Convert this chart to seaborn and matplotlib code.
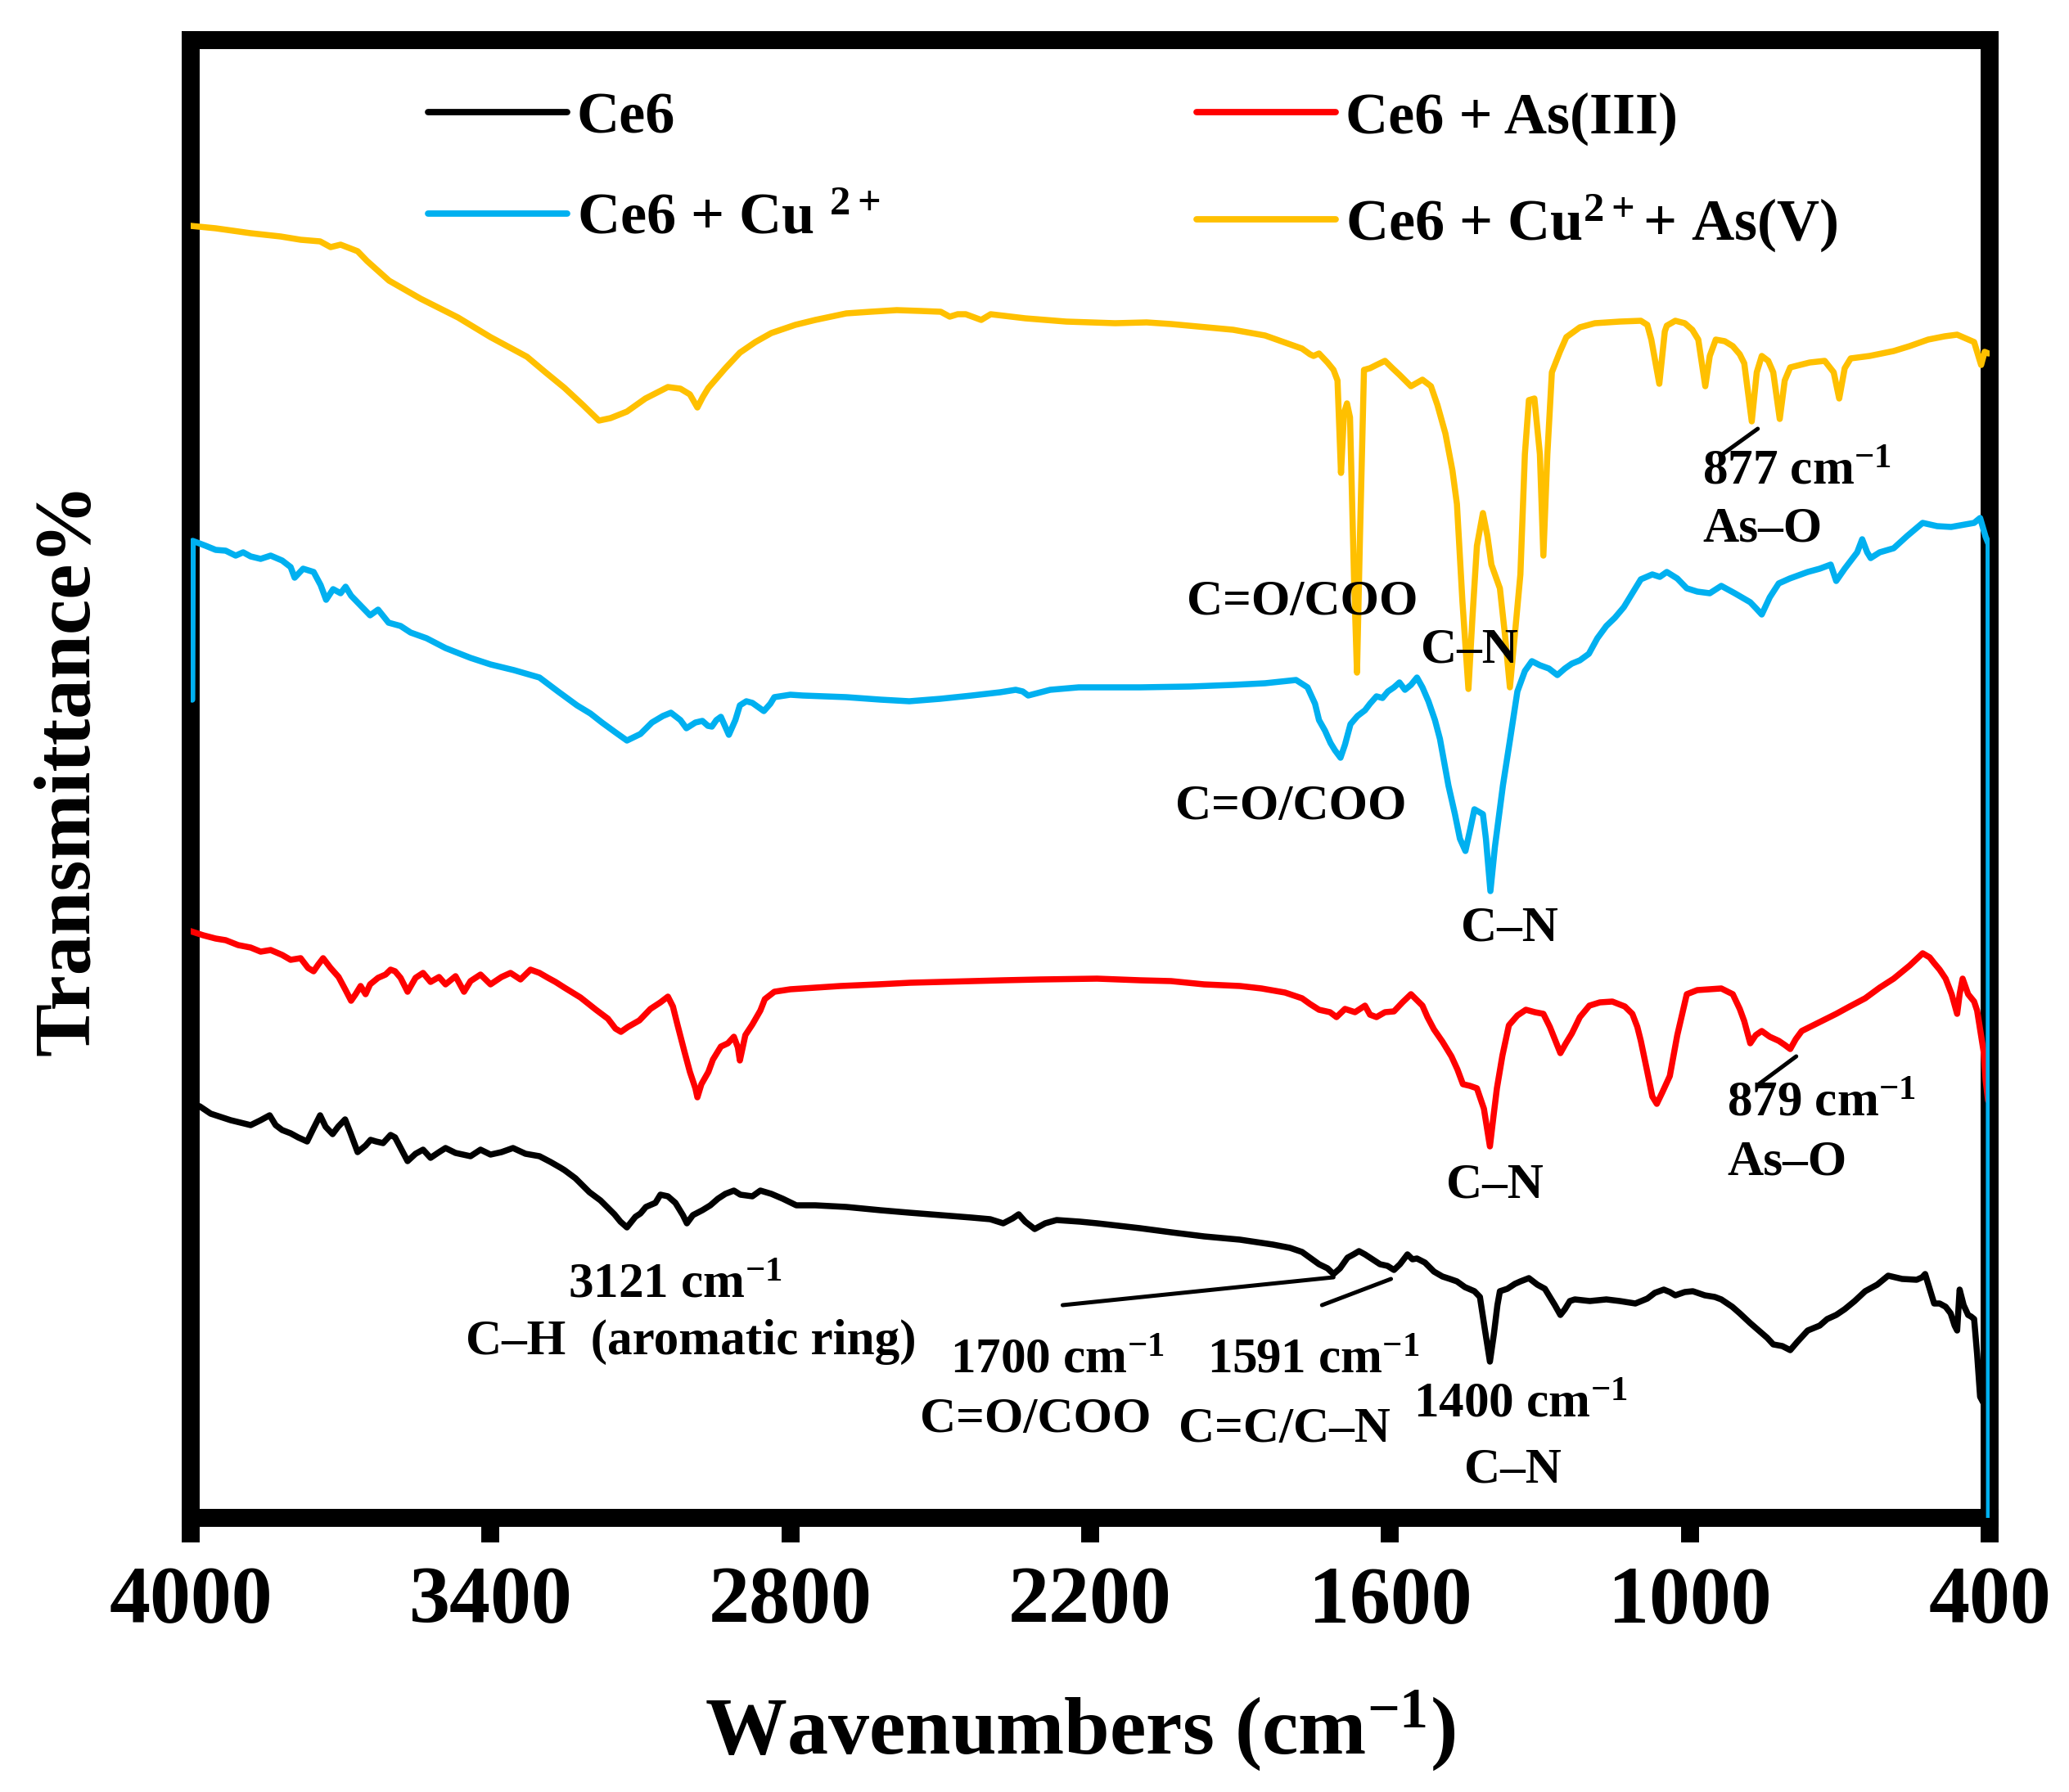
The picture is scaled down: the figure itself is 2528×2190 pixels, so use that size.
import numpy as np
import pandas as pd
import matplotlib
matplotlib.use("Agg")
import matplotlib.pyplot as plt
import seaborn as sns

# ---------------- data (wavenumber, relative transmittance, arbitrary offset units) ----------------
wn_ce6 = [3995, 3982, 3960, 3940, 3920, 3900, 3880, 3860, 3842, 3830, 3817, 3800, 3785, 3767, 3755, 3741,
          3730, 3716, 3705, 3691, 3680, 3666, 3650, 3640, 3629, 3615, 3600, 3591, 3578, 3566, 3550, 3535,
          3520, 3503, 3490, 3470, 3440, 3420, 3400, 3378, 3355, 3330, 3302, 3280, 3260, 3252, 3230, 3202,
          3180, 3152, 3140, 3127, 3110, 3100, 3089, 3070, 3060, 3045, 3030, 3015, 3007, 2995, 2976, 2960,
          2945, 2930, 2913, 2900, 2876, 2860, 2838, 2815, 2788, 2750, 2688, 2620, 2562, 2500, 2437, 2400,
          2374, 2355, 2343, 2330, 2311, 2290, 2267, 2220, 2186, 2100, 2038, 1972, 1900, 1834, 1800, 1776,
          1760, 1742, 1725, 1713, 1700, 1685, 1673, 1662, 1650, 1635, 1620, 1605, 1592, 1580, 1565, 1555,
          1546, 1530, 1512, 1495, 1480, 1466, 1450, 1431, 1420, 1410, 1400, 1392, 1385, 1380, 1365, 1350,
          1339, 1322, 1305, 1290, 1282, 1270, 1259, 1250, 1240, 1230, 1200, 1167, 1140, 1109, 1085, 1070,
          1052, 1040, 1029, 1010, 994, 970, 950, 937, 915, 900, 879, 860, 845, 833, 815, 799,
          785, 764, 740, 725, 707, 690, 670, 649, 625, 603, 575, 546, 535, 529, 520, 511,
          500, 488, 478, 470, 465, 460, 452, 443, 437, 431, 425, 419, 412, 405]
t_ce6 = [505, 503, 494, 490, 486, 483, 480, 486, 492, 480, 474, 470, 465, 460, 475, 492,
         478, 469, 478, 487, 470, 447, 455, 462, 460, 458, 468, 465, 450, 436, 445, 450,
         440, 447, 452, 446, 442, 450, 444, 447, 452, 445, 442, 435, 428, 425, 415, 398,
         388, 371, 362, 355, 368, 372, 380, 385, 395, 393, 385, 370, 360, 370, 376, 382,
         390, 396, 400, 395, 393, 400, 396, 390, 382, 382, 380, 376, 373, 370, 367, 365,
         360, 366, 371, 362, 353, 360, 364, 362, 360, 354, 349, 344, 340, 334, 330, 325,
         318, 310, 305, 298, 305, 318, 322, 326, 322, 316, 310, 308, 303, 310, 322, 316,
         317, 312, 301, 295, 292, 289, 282, 277, 270, 230, 191, 225, 260, 277, 280, 286,
         289, 293, 285, 280, 272, 260, 248, 255, 265, 267, 265, 267, 265, 262, 268, 275,
         279, 276, 272, 276, 277, 272, 270, 267, 258, 250, 238, 228, 220, 212, 210, 205,
         215, 229, 235, 243, 248, 255, 265, 277, 285, 296, 292, 291, 294, 298, 280, 262,
         262, 258, 250, 235, 229, 279, 260, 248, 246, 243, 200, 148, 140, 130]

wn_as3 = [4000, 3975, 3950, 3930, 3905, 3880, 3860, 3840, 3817, 3800, 3780, 3765, 3754, 3745, 3735, 3720,
          3704, 3690, 3679, 3670, 3660, 3650, 3641, 3625, 3610, 3600, 3591, 3580, 3566, 3550, 3535, 3520,
          3503, 3490, 3470, 3453, 3440, 3420, 3400, 3378, 3360, 3340, 3320, 3302, 3285, 3270, 3252, 3220,
          3189, 3165, 3150, 3139, 3125, 3102, 3080, 3060, 3045, 3035, 3026, 3012, 3001, 2990, 2986, 2978,
          2964, 2955, 2939, 2925, 2913, 2905, 2901, 2890, 2876, 2860, 2851, 2832, 2800, 2750, 2700, 2625,
          2560, 2499, 2440, 2374, 2300, 2186, 2100, 2038, 1972, 1900, 1857, 1810, 1776, 1760, 1742, 1720,
          1707, 1690, 1670, 1650, 1640, 1627, 1610, 1592, 1575, 1558, 1545, 1535, 1525, 1512, 1495, 1477,
          1465, 1454, 1440, 1426, 1412, 1400, 1393, 1386, 1375, 1362, 1345, 1328, 1310, 1293, 1280, 1259,
          1248, 1236, 1220, 1201, 1180, 1155, 1130, 1115, 1105, 1098, 1085, 1075, 1066, 1055, 1040, 1025,
          1006, 985, 960, 937, 914, 900, 891, 879, 868, 856, 840, 822, 810, 799, 788, 776,
          740, 707, 680, 649, 620, 592, 560, 534, 520, 511, 500, 488, 476, 465, 460, 454,
          443, 431, 425, 419, 412, 408, 403]
t_as3 = [717, 712, 708, 706, 700, 697, 692, 694, 688, 682, 684, 672, 668, 676, 684, 672,
         661, 645, 632, 640, 650, 640, 652, 660, 664, 670, 668, 660, 643, 660, 666, 655,
         661, 652, 662, 643, 656, 664, 652, 661, 666, 658, 670, 666, 660, 655, 648, 636,
         621, 610, 598, 594, 600, 608, 622, 630, 637, 625, 603, 570, 545, 525, 514, 530,
         545, 560, 576, 580, 588, 575, 559, 590, 603, 620, 634, 643, 646, 648, 650, 652,
         654, 655, 656, 657, 658, 659, 657, 656, 652, 650, 647, 642, 635, 628, 621, 618,
         612, 622, 618, 626, 615, 612, 618, 619, 630, 640, 632, 626, 612, 597, 582, 564,
         548, 530, 528, 525, 500, 454, 490, 525, 565, 602, 614, 621, 618, 616, 600, 568,
         580, 592, 612, 626, 630, 631, 625, 616, 600, 583, 545, 515, 506, 520, 540, 590,
         640, 645, 646, 647, 640, 622, 607, 580, 590, 595, 588, 583, 578, 573, 585, 595,
         606, 616, 625, 635, 648, 659, 675, 690, 685, 678, 670, 659, 640, 616, 640, 659,
         640, 631, 620, 597, 570, 535, 510]

wn_cu = [3997, 3996, 3970, 3950, 3930, 3910, 3895, 3880, 3860, 3840, 3817, 3800, 3792, 3775, 3754, 3740,
         3729, 3715, 3700, 3690, 3679, 3660, 3641, 3625, 3604, 3580, 3560, 3528, 3490, 3440, 3400, 3353,
         3302, 3265, 3227, 3200, 3177, 3150, 3127, 3100, 3077, 3055, 3039, 3020, 3008, 2990, 2976, 2965,
         2957, 2948, 2939, 2923, 2910, 2901, 2888, 2876, 2853, 2840, 2832, 2800, 2775, 2688, 2620, 2562,
         2500, 2437, 2380, 2349, 2335, 2324, 2280, 2223, 2100, 2000, 1914, 1850, 1788, 1765, 1750, 1742,
         1730, 1719, 1710, 1699, 1690, 1679, 1665, 1650, 1640, 1627, 1615, 1604, 1592, 1581, 1570, 1558,
         1546, 1535, 1523, 1510, 1500, 1483, 1470, 1460, 1449, 1440, 1431, 1414, 1408, 1399, 1390, 1374,
         1360, 1345, 1330, 1316, 1300, 1282, 1265, 1250, 1236, 1220, 1202, 1185, 1167, 1150, 1132, 1115,
         1098, 1075, 1060, 1046, 1025, 1006, 985, 960, 937, 910, 879, 868, 856, 840, 822, 800,
         764, 740, 718, 707, 690, 665, 655, 645, 638, 620, 592, 565, 534, 505, 477, 450,
         431, 419, 408, 402, 401]
t_cu = [1000, 1194, 1188, 1183, 1182, 1176, 1180, 1175, 1172, 1176, 1170, 1162, 1149, 1160, 1156, 1140,
        1122, 1135, 1130, 1138, 1127, 1115, 1103, 1110, 1094, 1090, 1082, 1075, 1063, 1051, 1043, 1036,
        1027, 1010, 993, 983, 972, 960, 950, 958, 972, 980, 984, 975, 965, 972, 974, 968,
        967, 975, 979, 957, 975, 993, 998, 996, 986, 995, 1003, 1006, 1005, 1003, 1000, 998,
        1001, 1005, 1009, 1012, 1010, 1005, 1012, 1015, 1015, 1016, 1018, 1020, 1024, 1015, 995, 975,
        962, 947, 938, 929, 945, 970, 980, 987, 995, 1004, 1002, 1010, 1015, 1021, 1012, 1018,
        1027, 1015, 998, 975, 952, 895, 860, 830, 815, 840, 866, 860, 830, 766, 820, 895,
        950, 1010, 1035, 1047, 1042, 1038, 1030, 1038, 1044, 1048, 1056, 1075, 1090, 1100, 1113, 1130,
        1147, 1153, 1150, 1156, 1148, 1136, 1132, 1130, 1139, 1130, 1119, 1112, 1104, 1125, 1142, 1148,
        1156, 1160, 1165, 1145, 1160, 1180, 1196, 1180, 1173, 1180, 1185, 1200, 1216, 1212, 1211, 1214,
        1216, 1222, 1199, 1190, -60]

wn_cuas5 = [4000, 3950, 3880, 3820, 3780, 3741, 3720, 3700, 3666, 3647, 3625, 3603, 3540, 3465, 3400, 3327,
            3290, 3252, 3215, 3183, 3160, 3127, 3090, 3045, 3020, 3001, 2986, 2975, 2964, 2930, 2901, 2870,
            2838, 2790, 2750, 2688, 2640, 2587, 2540, 2499, 2481, 2465, 2449, 2418, 2399, 2330, 2248, 2150,
            2087, 2038, 1914, 1850, 1799, 1776, 1760, 1753, 1742, 1725, 1713, 1705, 1698, 1692, 1686, 1680,
            1672, 1666, 1660, 1652, 1640, 1627, 1610, 1595, 1581, 1558, 1535, 1518, 1505, 1489, 1475, 1466,
            1455, 1443, 1435, 1426, 1414, 1405, 1397, 1380, 1370, 1360, 1350, 1339, 1330, 1322, 1311, 1300,
            1293, 1285, 1276, 1260, 1247, 1220, 1190, 1140, 1098, 1085, 1077, 1061, 1050, 1046, 1029, 1010,
            995, 983, 969, 960, 948, 930, 914, 900, 891, 876, 866, 856, 843, 833, 820, 810,
            799, 760, 730, 712, 701, 690, 678, 640, 592, 560, 523, 490, 465, 431, 417, 410, 402]
t_cuas5 = [1579, 1576, 1570, 1566, 1562, 1560, 1553, 1556, 1548, 1536, 1524, 1512, 1490, 1467, 1443, 1419,
           1400, 1381, 1360, 1341, 1344, 1352, 1368, 1382, 1380, 1373, 1357, 1370, 1381, 1405, 1424, 1437,
           1448, 1458, 1464, 1472, 1474, 1476, 1475, 1474, 1468, 1471, 1471, 1464, 1471, 1466, 1462, 1460,
           1461, 1459, 1452, 1445, 1434, 1429, 1422, 1420, 1423, 1412, 1403, 1390, 1277, 1350, 1362, 1345,
           1150, 1033, 1200, 1403, 1405, 1409, 1414, 1405, 1397, 1383, 1391, 1383, 1360, 1325, 1280, 1239,
           1120, 1013, 1100, 1188, 1228, 1200, 1165, 1136, 1080, 1015, 1080, 1153, 1300, 1366, 1368, 1300,
           1176, 1300, 1400, 1425, 1443, 1455, 1460, 1462, 1463, 1458, 1440, 1386, 1450, 1457, 1463, 1460,
           1452, 1440, 1383, 1420, 1440, 1438, 1432, 1422, 1411, 1340, 1400, 1420, 1414, 1400, 1343, 1390,
           1406, 1412, 1414, 1400, 1368, 1405, 1417, 1420, 1426, 1432, 1440, 1444, 1446, 1437, 1409, 1425, 1423]

series_labels = ["Ce6", "Ce6 + As(III)", "Ce6 + Cu $^{2+}$", "Ce6 + Cu$^{2+}$+ As(V)"]
series_colors = ["#000000", "#FF0000", "#00B0F0", "#FFC000"]
x_ticks = [4000, 3400, 2800, 2200, 1600, 1000, 400]

# ---------------- style ----------------
sns.set_style("white")
plt.rcParams["font.family"] = ["Liberation Serif", "DejaVu Serif"]
plt.rcParams["font.weight"] = "bold"
plt.rcParams["mathtext.fontset"] = "custom"
plt.rcParams["mathtext.rm"] = "Liberation Serif:bold"
plt.rcParams["mathtext.it"] = "Liberation Serif:bold"
plt.rcParams["mathtext.bf"] = "Liberation Serif:bold"
plt.rcParams["axes.unicode_minus"] = True
for k in ["text.color", "axes.labelcolor", "xtick.color", "ytick.color", "axes.edgecolor"]:
    plt.rcParams[k] = "black"

W, H, DPI = 2528, 2190, 200
fig = plt.figure(figsize=(W / DPI, H / DPI), dpi=DPI)
L, R, T, B = 233, 2431, 49, 1855
ax = fig.add_axes([L / W, 1 - B / H, (R - L) / W, (B - T) / H])

frames = [
    (wn_ce6, t_ce6),
    (wn_as3, t_as3),
    (wn_cu, t_cu),
    (wn_cuas5, t_cuas5),
]
for (xs, ys), lab, col in zip(frames, series_labels, series_colors):
    df = pd.DataFrame({"wn": xs, "T": ys})
    sns.lineplot(data=df, x="wn", y="T", color=col, lw=2.7, estimator=None, sort=False,
                 ax=ax, zorder=3, label=lab)

ax.set_xlim(4000, 400)
ax.set_ylim(0, B - T)
ax.set_xticks(x_ticks)
ax.set_xticklabels([str(v) for v in x_ticks])
ax.set_yticks([])

for s in ax.spines.values():
    s.set_linewidth(7.9)
    s.set_color("black")
    s.set_visible(True)
ax.tick_params(axis="x", direction="out", length=10.8, width=7.9, pad=10,
               labelsize=36, bottom=True, top=False, colors="black")

ax.set_xlabel("Wavenumbers (cm$^{-1}$)", fontsize=36, fontweight="bold", color="black")
ax.xaxis.set_label_coords(0.4945, -0.115)
ax.set_ylabel("Transmittance%", fontsize=35, fontweight="bold", color="black")
ax.yaxis.set_label_coords(-0.047, 0.507)

# legend: two columns placed manually
h, l = ax.get_legend_handles_labels()
if ax.get_legend():
    ax.get_legend().remove()
order_c1 = [0, 2]
order_c2 = [1, 3]
leg_kw = dict(frameon=False, fontsize=26, handlelength=2.35, handletextpad=0.17,
              labelspacing=0.8, borderpad=0, borderaxespad=0, loc="upper left",
              labelcolor="black")
top_y = (B - 112) / (B - T)
leg1 = ax.legend([h[i] for i in order_c1], [l[i] for i in order_c1],
                 bbox_to_anchor=((523 - L) / (R - L), top_y), **leg_kw)
ax.add_artist(leg1)
leg2 = ax.legend([h[i] for i in order_c2], [l[i] for i in order_c2],
                 bbox_to_anchor=((1462 - L) / (R - L), top_y), **leg_kw)
for lg in (leg1, leg2):
    for ln in lg.get_lines():
        ln.set_linewidth(2.8)

# ---------------- annotations ----------------
fs = 22
def txt(x, y, s, ha="center"):
    ax.text(x, y, s, fontsize=fs, fontweight="bold", ha=ha, va="center", zorder=4, color="black")

txt(1776, 1119, "C=O/COO")
txt(1441, 1060, "C\u2013N")
txt(975, 1279, "877 cm$^{-1}$", ha="left")
txt(975, 1208, "As\u2013O", ha="left")
txt(1798, 869, "C=O/COO")
txt(1360, 720, "C\u2013N")
txt(1391, 406, "C\u2013N")
txt(925, 506, "879 cm$^{-1}$", ha="left")
txt(925, 435, "As\u2013O", ha="left")
txt(3030, 284, "3121 cm$^{-1}$")
txt(2999, 215, "C\u2013H  (aromatic ring)")
txt(2266, 192, "1700 cm$^{-1}$")
txt(2310, 120, "C=O/COO")
txt(1753, 193, "1591 cm$^{-1}$")
txt(1811, 108, "C=C/C\u2013N")
txt(1339, 138, "1400 cm$^{-1}$")
txt(1354, 58, "C\u2013N")

def seg(x0, y0, x1, y1):
    ax.annotate("", xy=(x1, y1), xytext=(x0, y0),
                arrowprops=dict(arrowstyle="-", lw=1.8, color="black", shrinkA=0, shrinkB=0))

seg(939, 1298, 864, 1331)
seg(862, 530, 787, 564)
seg(2255, 260, 1713, 294)
seg(1736, 260, 1598, 292)

fig.savefig("out.png", dpi=DPI)
